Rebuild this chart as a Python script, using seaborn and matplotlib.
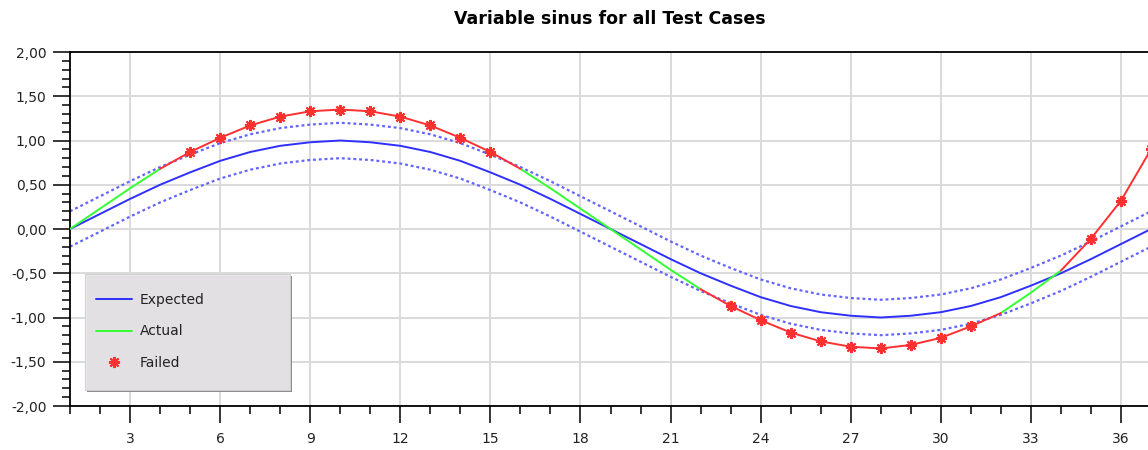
import matplotlib
matplotlib.use("Agg")
import matplotlib.pyplot as plt
import matplotlib.ticker as mticker
from matplotlib.patches import Rectangle
from matplotlib.lines import Line2D
import numpy as np
import pandas as pd
import seaborn as sns

# test case index
test_case = list(range(1, 38))

expected = [0.00, 0.17, 0.34, 0.50, 0.64, 0.77, 0.87, 0.94, 0.98, 1.00, 0.98, 0.94, 0.87,
            0.77, 0.64, 0.50, 0.34, 0.17, 0.00, -0.17, -0.34, -0.50, -0.64, -0.77, -0.87,
            -0.94, -0.98, -1.00, -0.98, -0.94, -0.87, -0.77, -0.64, -0.50, -0.34, -0.17, 0.00]

upper = [0.20, 0.37, 0.54, 0.70, 0.84, 0.97, 1.07, 1.14, 1.18, 1.20, 1.18, 1.14, 1.07,
         0.97, 0.84, 0.70, 0.54, 0.37, 0.20, 0.03, -0.14, -0.30, -0.44, -0.57, -0.67,
         -0.74, -0.78, -0.80, -0.78, -0.74, -0.67, -0.57, -0.44, -0.30, -0.14, 0.03, 0.20]

lower = [-0.20, -0.03, 0.14, 0.30, 0.44, 0.57, 0.67, 0.74, 0.78, 0.80, 0.78, 0.74, 0.67,
         0.57, 0.44, 0.30, 0.14, -0.03, -0.20, -0.37, -0.54, -0.70, -0.84, -0.97, -1.07,
         -1.14, -1.18, -1.20, -1.18, -1.14, -1.07, -0.97, -0.84, -0.70, -0.54, -0.37, -0.20]

actual = [0.00, 0.23, 0.46, 0.68, 0.87, 1.03, 1.17, 1.27, 1.33, 1.35, 1.33, 1.27, 1.17,
          1.03, 0.87, 0.68, 0.46, 0.23, 0.00, -0.23, -0.46, -0.68, -0.87, -1.03, -1.17,
          -1.27, -1.33, -1.35, -1.31, -1.23, -1.10, -0.95, -0.72, -0.47, -0.11, 0.32, 0.90]

failed_cases = [5, 6, 7, 8, 9, 10, 11, 12, 13, 14, 15,
                23, 24, 25, 26, 27, 28, 29, 30, 31,
                35, 36, 37]

title = "Variable sinus for all Test Cases"

BLUE = "#2f2fff"
BAND = "#6464ff"
GREEN = "#33ff33"
RED = "#ff3030"
GRID = "#dadada"

df = pd.DataFrame({"case": test_case, "expected": expected, "upper": upper,
                   "lower": lower, "actual": actual})
df["failed"] = df["case"].isin(failed_cases)
# red segments: any segment that touches a failed point, green otherwise
near_fail = df["failed"] | df["failed"].shift(1, fill_value=False) | df["failed"].shift(-1, fill_value=False)
df["actual_red"] = df["actual"].where(near_fail)
df["actual_green"] = df["actual"].where(~df["failed"])

sns.set_style("white")
plt.rcParams["font.family"] = ["DejaVu Sans"]

fig = plt.figure(figsize=(11.48, 4.5), dpi=100)
ax = fig.add_axes([70 / 1148, 44 / 450, 1 - 70 / 1148, 354 / 450])

ax.grid(True, which="major", color=GRID, linewidth=1.4, zorder=0)
ax.set_axisbelow(True)

sns.lineplot(data=df, x="case", y="upper", color=BAND, linewidth=1.6,
             linestyle=(0, (1.3, 1.3)), ax=ax, zorder=2)
sns.lineplot(data=df, x="case", y="lower", color=BAND, linewidth=1.6,
             linestyle=(0, (1.3, 1.3)), ax=ax, zorder=2)
sns.lineplot(data=df, x="case", y="expected", color=BLUE, linewidth=1.4, ax=ax, zorder=3)
ax.plot(df["case"], df["actual_green"], color=GREEN, linewidth=1.4, zorder=4)
ax.plot(df["case"], df["actual_red"], color=RED, linewidth=1.4, zorder=5)
fail_df = df[df["failed"]]
ax.plot(fail_df["case"], fail_df["actual"], linestyle="none", marker=(8, 2, 0),
        markersize=8, markeredgewidth=1.5, color=RED, zorder=6)

ax.set_xlim(1, 36.9)
ax.set_ylim(-2, 2)
ax.xaxis.set_major_locator(mticker.MultipleLocator(3))
ax.xaxis.set_minor_locator(mticker.MultipleLocator(1))
ax.yaxis.set_major_locator(mticker.MultipleLocator(0.5))
ax.yaxis.set_minor_locator(mticker.MultipleLocator(0.1))
ax.yaxis.set_major_formatter(mticker.FuncFormatter(lambda v, p: f"{v:.2f}".replace(".", ",")))
ax.xaxis.set_major_formatter(mticker.FuncFormatter(lambda v, p: "" if v < 2 else f"{int(v)}"))

ax.tick_params(which="both", bottom=True, left=True, top=False, right=False)
ax.tick_params(which="major", direction="out", length=12, width=1.1, color="black",
               labelsize=10, labelcolor="#222222")
ax.tick_params(which="minor", direction="out", length=5.5, width=1.1, color="black")
ax.tick_params(axis="x", which="major", pad=7)
ax.tick_params(axis="y", which="major", pad=5)
ax.set_xlabel("")
ax.set_ylabel("")

for side in ["left", "bottom", "top"]:
    ax.spines[side].set_visible(True)
    ax.spines[side].set_color("black")
    ax.spines[side].set_linewidth(1.3)
ax.spines["right"].set_visible(False)

# legend box with shadow, drawn in axes coordinates
bx, by = (85 - 70) / 1078, (406 - 390) / 354
bw, bh = 205 / 1078, 116 / 354
ax.add_patch(Rectangle((bx + 2 / 1078, by - 2 / 354), bw, bh, transform=ax.transAxes,
                       facecolor="#8a8a8a", edgecolor="none", zorder=7))
ax.add_patch(Rectangle((bx, by), bw, bh, transform=ax.transAxes,
                       facecolor="#ebe7eb", edgecolor="#cfcfcf", linewidth=0.8,
                       alpha=0.93, zorder=8))

handles = [Line2D([], [], color=BLUE, linewidth=1.4),
           Line2D([], [], color=GREEN, linewidth=1.4),
           Line2D([], [], color=RED, linestyle="none", marker=(8, 2, 0),
                  markersize=8, markeredgewidth=1.5)]
leg = ax.legend(handles, ["Expected", "Actual", "Failed"], loc="upper left",
                bbox_to_anchor=((96 - 70) / 1078, (406 - 293) / 354),
                frameon=False, borderpad=0, borderaxespad=0, handlelength=2.6,
                handletextpad=0.55, labelspacing=1.25, fontsize=10)
leg.set_zorder(9)
for t in leg.get_texts():
    t.set_color("#222222")

fig.text(610 / 1148, 1 - 19 / 450, title, ha="center", va="center",
         fontsize=12.5, fontweight="bold", color="black")

fig.savefig("out.png", dpi=100)
